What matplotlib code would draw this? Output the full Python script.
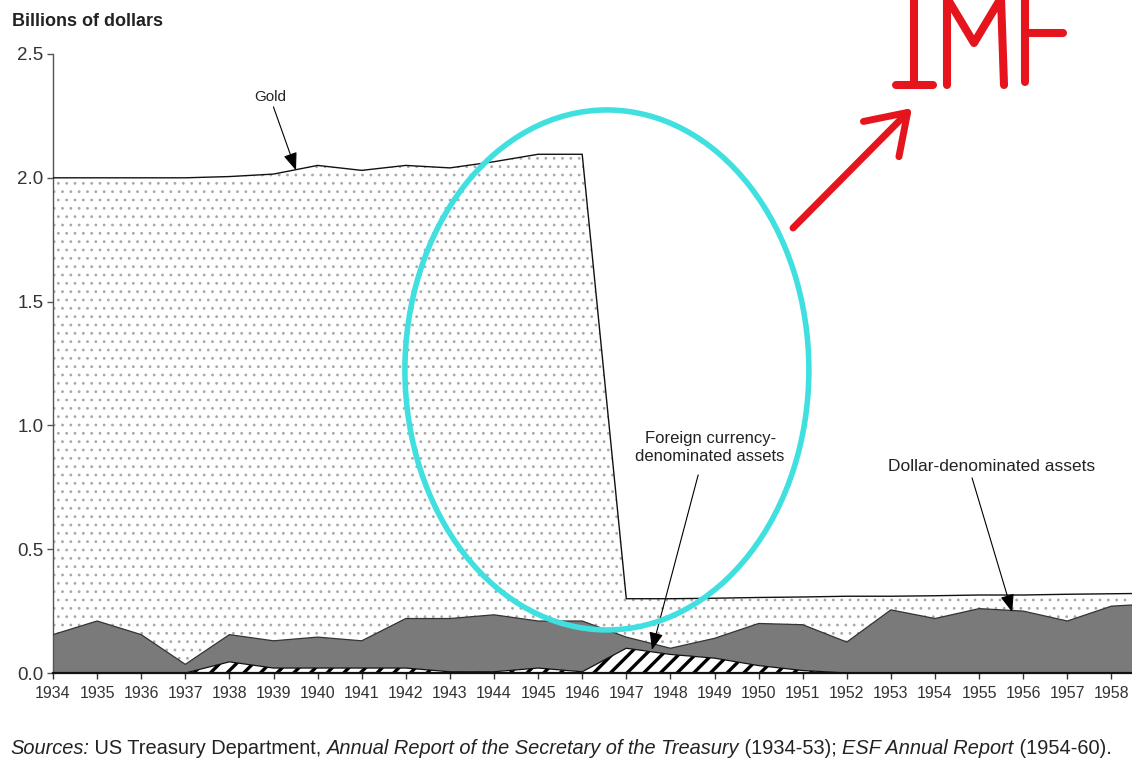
import numpy as np
import matplotlib
matplotlib.use("Agg")
import matplotlib.pyplot as plt
from matplotlib.patches import Ellipse
from matplotlib.lines import Line2D
from matplotlib.transforms import IdentityTransform

# ---------------- data (billions of dollars) ----------------
years = [1934, 1935, 1936, 1937, 1938, 1939, 1940, 1941, 1942, 1943, 1944, 1945, 1946,
         1947, 1948, 1949, 1950, 1951, 1952, 1953, 1954, 1955, 1956, 1957, 1958, 1959]
foreign_assets = [0.0, 0.0, 0.0, 0.0, 0.045, 0.02, 0.02, 0.02, 0.02, 0.005, 0.005, 0.02, 0.005,
                  0.10, 0.075, 0.06, 0.03, 0.01, 0.0, 0.0, 0.0, 0.0, 0.0, 0.0, 0.0, 0.0]
dollar_assets = [0.155, 0.21, 0.155, 0.035, 0.11, 0.11, 0.125, 0.11, 0.20, 0.215, 0.23, 0.19, 0.205,
                 0.045, 0.025, 0.08, 0.17, 0.185, 0.125, 0.255, 0.22, 0.26, 0.25, 0.21, 0.27, 0.28]
gold = [1.845, 1.79, 1.845, 1.965, 1.85, 1.885, 1.905, 1.90, 1.83, 1.82, 1.83, 1.885, 1.885,
        0.155, 0.20, 0.162, 0.105, 0.112, 0.185, 0.055, 0.092, 0.055, 0.065, 0.108, 0.05, 0.042]
xtick_labels = [str(y) for y in range(1934, 1959)]
ytick_values = [0.0, 0.5, 1.0, 1.5, 2.0, 2.5]

W, H = 1132, 767
plt.rcParams['font.family'] = ['Liberation Sans', 'DejaVu Sans']

fig = plt.figure(figsize=(W / 100, H / 100), dpi=100)
ax = fig.add_axes([53 / W, (H - 673) / H, (W - 53) / W, (673 - 54) / H])

x = np.array(years, dtype=float)
f_top = np.array(foreign_assets)
d_top = f_top + np.array(dollar_assets)
g_top = d_top + np.array(gold)

# gold (dotted)
with plt.rc_context({'hatch.linewidth': 0.8}):
    ax.fill_between(x, d_top, g_top, facecolor='white', edgecolor='#a8a8a8',
                    hatch='..', linewidth=0, zorder=1)
ax.plot(x, g_top, color='#111111', lw=1.0, zorder=4)

# dollar-denominated (dark gray)
ax.fill_between(x, f_top, d_top, facecolor='#7a7a7a', edgecolor='none', linewidth=0, zorder=2)
ax.plot(x, d_top, color='#333333', lw=0.9, zorder=4)

# foreign currency (hatched)
with plt.rc_context({'hatch.linewidth': 2.4}):
    ax.fill_between(x, 0, f_top, facecolor='white', edgecolor='black',
                    hatch='//', linewidth=0, zorder=3)
ax.plot(x, f_top, color='#111111', lw=0.9, zorder=4)

ax.set_xlim(1934, 1934 + (W - 53) / 44.1)
ax.set_ylim(0, 2.5)
for s in ['top', 'right']:
    ax.spines[s].set_visible(False)
ax.spines['left'].set_color('#555555')
ax.spines['left'].set_linewidth(1.0)
ax.spines['bottom'].set_color('#111111')
ax.spines['bottom'].set_linewidth(1.6)
ax.spines['bottom'].set_zorder(5)

ax.set_yticks(ytick_values)
ax.set_yticklabels([f"{v:.1f}" for v in ytick_values], fontsize=13.5, color='#333333')
ax.set_xticks(range(1934, 1959))
ax.set_xticklabels(xtick_labels, fontsize=11.5, color='#333333')
ax.tick_params(axis='y', direction='out', length=4, width=1, color='#555555', pad=3)
ax.tick_params(axis='x', direction='out', length=4, width=1, color='#333333', pad=5)

fig.text(12 / W, 1 - 22 / H, 'Billions of dollars', fontsize=13, fontweight='bold',
         color='#222222', va='center', ha='left')

# ---------------- annotations ----------------
arrowkw = dict(arrowstyle='-|>,head_length=0.9,head_width=0.35', color='black', lw=0.8,
               shrinkA=0, shrinkB=0, mutation_scale=12)
ax.annotate('Gold', xy=(1939.51, 2.03), xytext=(1938.92, 2.326), fontsize=11,
            color='#222222', ha='center', va='center', arrowprops=arrowkw, zorder=6)
ax.text(1948.9, 0.91, 'Foreign currency-\ndenominated assets', fontsize=12,
        color='#222222', ha='center', va='center', linespacing=1.2, zorder=6)
ax.annotate('', xy=(1947.58, 0.093), xytext=(1948.63, 0.80), arrowprops=arrowkw, zorder=6)
ax.text(1955.29, 0.836, 'Dollar-denominated assets', fontsize=12.5, color='#222222',
        ha='center', va='center', zorder=6)
ax.annotate('', xy=(1955.75, 0.246), xytext=(1954.84, 0.788), arrowprops=arrowkw, zorder=6)

# cyan ellipse
ell = Ellipse((1946.56, 1.224), width=9.16, height=2.10, fill=False,
              edgecolor='#3fe0df', lw=4, clip_on=False, zorder=7)
ax.add_patch(ell)

# red arrow
RED = '#e6141c'
ax.annotate('', xy=(912, H - 108), xycoords='figure pixels',
            xytext=(793, H - 228), textcoords='figure pixels',
            arrowprops=dict(arrowstyle='->,head_length=1.35,head_width=0.9',
                            color=RED, lw=5, shrinkA=0, shrinkB=0,
                            mutation_scale=20, capstyle='round', joinstyle='round'),
            annotation_clip=False, zorder=8)

# handwritten "IMF" (pen strokes, top cut off by the image edge)
strokes = [
    ([914, 914], [-10, 85]),            # I stem
    ([896, 933], [85, 85]),             # I bottom bar
    ([896, 933], [-8, -8]),             # I top bar (outside image)
    ([947, 947, 974, 1001, 1004], [85, -2, 43, -2, 85]),  # M
    ([1025, 1025], [-10, 82]),          # F stem
    ([1025, 1063], [33, 33]),           # F middle bar
    ([1025, 1066], [-6, -6]),           # F top bar (outside image)
]
for xs, ys in strokes:
    ln = Line2D(xs, [H - v for v in ys], color=RED, lw=5.8, solid_capstyle='round',
                solid_joinstyle='round', transform=IdentityTransform())
    fig.add_artist(ln)

# sources line with mixed italic
pieces = [("Sources:", 'italic'), (" US Treasury Department, ", 'normal'),
          ("Annual Report of the Secretary of the Treasury", 'italic'),
          (" (1934-53); ", 'normal'), ("ESF Annual Report", 'italic'),
          (" (1954-60).", 'normal')]
renderer = fig.canvas.get_renderer()
xpos = 10
for txt, style in pieces:
    t = fig.text(xpos / W, 1 - 748 / H, txt, fontsize=14.4, style=style, color='#222222',
                 va='center', ha='left')
    bb = t.get_window_extent(renderer)
    xpos = bb.x1

fig.savefig('out.png', dpi=100)
